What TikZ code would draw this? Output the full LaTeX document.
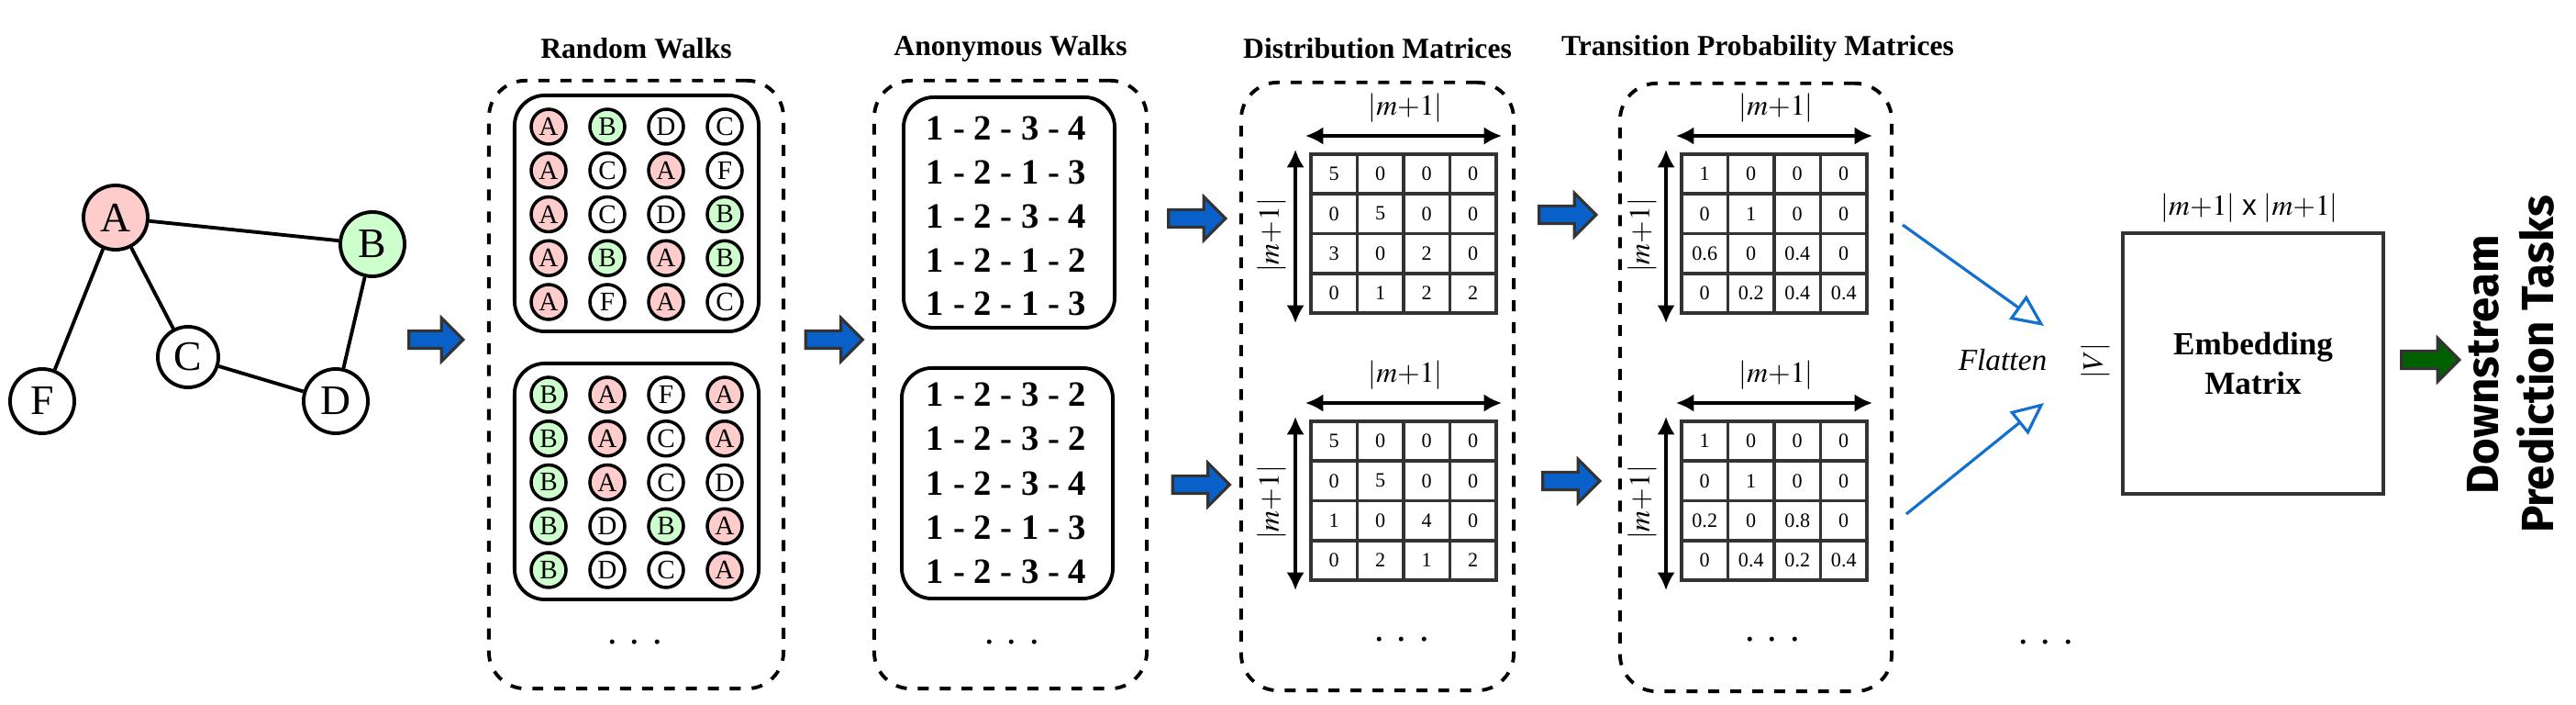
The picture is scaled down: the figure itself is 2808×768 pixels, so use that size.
\documentclass[tikz,border=0pt]{standalone}
\usepackage{mathptmx}
\usepackage{fontspec}
\setmainfont{Liberation Serif}
\setsansfont{Liberation Sans}
\newfontfamily\taskfont{Fira Sans}
\usetikzlibrary{shapes.arrows,arrows.meta,positioning}
\usepackage{xcolor}
\definecolor{colA}{HTML}{FFCCCC}
\definecolor{colB}{HTML}{CCFFCC}
\colorlet{colC}{white}
\colorlet{colD}{white}
\colorlet{colF}{white}
\definecolor{arrblue}{HTML}{0860C8}
\definecolor{flatblue}{HTML}{1170D0}
\definecolor{edgegray}{HTML}{333333}
\definecolor{arrgreen}{HTML}{006000}

\begin{document}
\begin{tikzpicture}[x=0.01cm,y=-0.01cm,
  gnode/.style={circle,draw,line width=1.1pt,minimum size=0.70cm,inner sep=0pt,
                font=\fontsize{13}{13}\selectfont},
  wnode/.style={circle,draw,line width=1pt,minimum size=0.38cm,inner sep=0pt,
                font=\fontsize{8.3}{8.3}\selectfont},
  stagebox/.style={draw,line width=1.1pt,dash pattern=on 3.4pt off 3.4pt,
                   rounded corners=0.4cm,minimum height=6.62cm,inner sep=0pt},
  walkbox/.style={draw,line width=1.1pt,rounded corners=0.33cm,inner sep=0pt},
  cell/.style={draw=edgegray,line width=1.1pt,minimum width=0.505cm,
               minimum height=0.4325cm,inner sep=0pt,font=\fontsize{6.3}{6.3}\selectfont},
  dimarr/.style={{Latex[length=5.5pt,width=5.5pt]}-{Latex[length=5.5pt,width=5.5pt]},line width=0.9pt},
  dimlbl/.style={font=\fontsize{9}{9}\selectfont,inner sep=0pt},
  blockarr/.style={single arrow,draw=edgegray,fill=arrblue,line width=0.9pt,
                   minimum height=0.62cm,text height=0.16cm,text depth=0pt,text width=0pt,
                   single arrow head extend=0.14cm,inner sep=0pt},
  flatarr/.style={-{Triangle[open,length=10pt,width=9pt]},draw=flatblue,line width=0.9pt},
  ttl/.style={font=\fontsize{9}{9}\selectfont\bfseries},
  dots/.style={font=\fontsize{12}{12}\selectfont}
]
  \useasboundingbox (0,0) rectangle (2808,768);

  % Input graph
  \node[gnode,fill=colA] (A) at (126,237) {A};
  \node[gnode,fill=colB] (B) at (406,266) {B};
  \node[gnode,minimum size=0.66cm] (C) at (205,389) {C};
  \node[gnode] (D) at (366,437) {D};
  \node[gnode] (F) at (46,437) {F};
  \draw[line width=1.1pt] (A) -- (B) (A) -- (C) (A) -- (F) (C) -- (D) (B) -- (D);

  % Stage frames and titles
  \node[stagebox,minimum width=3.21cm] (rw) at (693.5,419) {};
  \node[stagebox,minimum width=2.97cm] (aw) at (1101.5,419) {};
  \node[stagebox,minimum width=2.97cm] (dm) at (1501.5,421) {};
  \node[stagebox,minimum width=2.96cm] (tp) at (1914,422) {};
  \node[ttl] (rw-t) at (693.5,53) {Random Walks};
  \node[ttl] (aw-t) at (1101.5,53) {Anonymous Walks};
  \node[ttl] (dm-t) at (1501.5,53) {Distribution Matrices};
  \node[ttl] (tp-t) at (1916,53) {Transition Probability Matrices};

  % Random walks
  \node[walkbox,minimum width=2.66cm,minimum height=2.57cm] (rw1) at (694,232.5) {};
  \node[walkbox,minimum width=2.66cm,minimum height=2.57cm] (rw2) at (694,524.5) {};
  \foreach \r/\walk in {0/{A,B,D,C},1/{A,C,A,F},2/{A,C,D,B},3/{A,B,A,B},4/{A,F,A,C}}
    \foreach \v [count=\c from 0] in \walk
      \node[wnode,fill=col\v] (p-\r-\c) at (598+64*\c,138+47.75*\r) {\v};
  \foreach \r/\walk in {0/{B,A,F,A},1/{B,A,C,A},2/{B,A,C,D},3/{B,D,B,A},4/{B,D,C,A}}
    \foreach \v [count=\c from 0] in \walk
      \node[wnode,fill=col\v] (q-\r-\c) at (598+64*\c,430+47.75*\r) {\v};
  \node[dots] (rw-d) at (692,700) {. . .};

  % Anonymous walks
  \node[walkbox,minimum width=2.30cm,minimum height=2.51cm] (aw1) at (1100,231.5) {};
  \node[walkbox,minimum width=2.30cm,minimum height=2.51cm] (aw2) at (1098,526.5) {};
  \foreach \r/\seq in {0/1 - 2 - 3 - 4,1/1 - 2 - 1 - 3,2/1 - 2 - 3 - 4,3/1 - 2 - 1 - 2,4/1 - 2 - 1 - 3}
    \node[font=\fontsize{11}{11}\selectfont\bfseries] (s-\r) at (1097,140+47.75*\r) {\seq};
  \foreach \r/\seq in {0/1 - 2 - 3 - 2,1/1 - 2 - 3 - 2,2/1 - 2 - 3 - 4,3/1 - 2 - 1 - 3,4/1 - 2 - 3 - 4}
    \node[font=\fontsize{11}{11}\selectfont\bfseries] (u-\r) at (1097,430+48.25*\r) {\seq};
  \node[dots] (aw-d) at (1103,700) {. . .};

  % Distribution and transition matrices
  \foreach \m/\mx/\my/\vals in {
      d1/1429/168/{{5,0,0,0},{0,5,0,0},{3,0,2,0},{0,1,2,2}},
      d2/1429/459/{{5,0,0,0},{0,5,0,0},{1,0,4,0},{0,2,1,2}},
      t1/1833/168/{{1,0,0,0},{0,1,0,0},{0.6,0,0.4,0},{0,0.2,0.4,0.4}},
      t2/1833/459/{{1,0,0,0},{0,1,0,0},{0.2,0,0.8,0},{0,0.4,0.2,0.4}}} {
    \foreach \row [count=\r from 0] in \vals
      \foreach \v [count=\c from 0] in \row
        \node[cell] (\m-\r-\c) at (\mx+25.25+50.5*\c,\my+21.6+43.25*\r) {\v};
    \draw[dimarr] ([shift={(-4,-18)}]\m-0-0.north west) -- ([shift={(4,-18)}]\m-0-3.north east);
    \draw[dimarr] ([shift={(-15,-3)}]\m-0-0.north west) -- ([shift={(-15,9)}]\m-3-0.south west);
    \node[dimlbl] (\m-wl) at ([shift={(0,-48)}]\m-0-1.north east) {$|m{+}1|$};
    \node[dimlbl,rotate=90] (\m-hl) at ([shift={(-41,0)}]\m-1-0.south west) {$|m{+}1|$};
  }
  \node[dots] (dm-d) at (1528,697) {. . .};
  \node[dots] (tp-d) at (1932,697) {. . .};
  \node[dots] (fl-d) at (2230,700) {. . .};

  % Block arrows between stages
  \node[blockarr,minimum height=0.59cm] (g2r) at (470.5,370) {};
  \node[blockarr] (r2a) at (904.5,370) {};
  \node[blockarr] (a2d1) at (1300,238) {};
  \node[blockarr] (a2d2) at (1304.5,528) {};
  \node[blockarr] (d2t1) at (1704,234) {};
  \node[blockarr] (d2t2) at (1708,524) {};

  % Flatten into the embedding matrix
  \coordinate (f1s) at (2074,245);
  \coordinate (f1e) at (2228,355);
  \coordinate (f2s) at (2078,560);
  \coordinate (f2e) at (2228,439);
  \draw[flatarr] (f1s) -- (f1e);
  \draw[flatarr] (f2s) -- (f2e);
  \node[font=\fontsize{9.5}{9.5}\selectfont\itshape] (flat) at (2183,392) {Flatten};
  \node[dimlbl,rotate=90] (vlbl) at (2284,393) {$|V|$};
  \node[draw=edgegray,line width=1.1pt,minimum size=2.84cm,inner sep=0pt,align=center,
        font=\fontsize{10}{12.5}\selectfont\bfseries] (emb) at (2456,396) {Embedding\\Matrix};
  \node[dimlbl] (emb-l) at (2452,227) {$|m{+}1|$ {\sffamily x} $|m{+}1|$};

  % Output
  \node[blockarr,fill=arrgreen,minimum height=0.63cm] (e2t) at (2644.5,392) {};
  \node[rotate=90,align=center,font=\taskfont\fontsize{14}{17}\selectfont\bfseries] (task)
       at (2737,397) {Downstream\\Prediction Tasks};
\end{tikzpicture}
\end{document}
